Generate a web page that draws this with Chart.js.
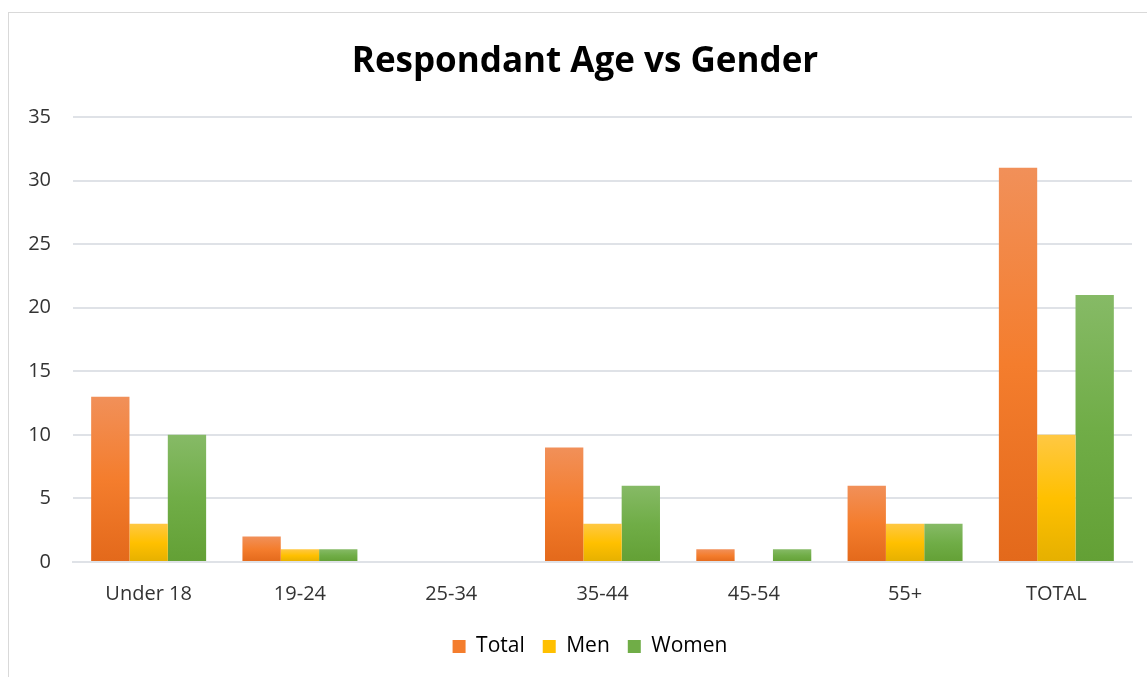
<!DOCTYPE html>
<html>
<head>
<meta charset="utf-8">
<script src="https://cdn.jsdelivr.net/npm/chart.js@4.4.1/dist/chart.umd.min.js"></script>
<style>
  html, body { margin: 0; padding: 0; background: #fff; overflow: hidden; }
  #frame { position: absolute; left: 8px; top: 12px; width: 1150px; height: 680px; border: 1px solid #d9d9d9; box-sizing: border-box; }
  #wrap { position: absolute; left: 0; top: 0; width: 1147px; height: 677px; }
</style>
</head>
<body>
<div id="frame"></div>
<div id="wrap"><canvas id="chart"></canvas></div>
<script>
const categories = ['Under 18', '19-24', '25-34', '35-44', '45-54', '55+', 'TOTAL']
const totalValues = [13, 2, 0, 9, 1, 6, 31]
const menValues = [3, 1, 0, 3, 0, 3, 10]
const womenValues = [10, 1, 0, 6, 1, 3, 21]
const yTicks = [0, 5, 10, 15, 20, 25, 30, 35]

// top, middle, bottom colour of each bar's gradient
const palette = {
  total: ['#f19059', '#f47d2d', '#e3691b'],
  men: ['#ffc843', '#ffc000', '#e5b000'],
  women: ['#86ba66', '#70ad47', '#63a035'],
}

function barGradient(stops) {
  return (ctx) => {
    const chart = ctx.chart
    const y = chart.scales && chart.scales.y
    if (!chart.chartArea || !y || ctx.raw === undefined) return stops[1]
    const top = y.getPixelForValue(ctx.raw)
    const base = y.getPixelForValue(0)
    if (base - top < 1) return stops[1]
    const g = chart.ctx.createLinearGradient(0, top, 0, base)
    g.addColorStop(0, stops[0])
    g.addColorStop(0.5, stops[1])
    g.addColorStop(1, stops[2])
    return g
  }
}

// title and legend are centred on the whole frame, not on the plot
const centreShift = {
  id: 'centreShift',
  afterLayout(chart) {
    if (chart.titleBlock) { chart.titleBlock.left += 19; chart.titleBlock.right += 19 }
    if (chart.legend) { chart.legend.left += 24; chart.legend.right += 24 }
  },
}

const font = "'Open Sans', 'Liberation Sans', sans-serif"
const textColor = '#333'
const gridColor = '#dfe2e7'

new Chart(document.getElementById('chart'), {
  type: 'bar',
  data: {
    labels: categories,
    datasets: [
      { label: 'Total', data: totalValues, backgroundColor: barGradient(palette.total) },
      { label: 'Men', data: menValues, backgroundColor: barGradient(palette.men) },
      { label: 'Women', data: womenValues, backgroundColor: barGradient(palette.women) },
    ],
  },
  plugins: [centreShift],
  options: {
    responsive: true,
    maintainAspectRatio: false,
    animation: false,
    datasets: {
      bar: { barPercentage: 1, categoryPercentage: 0.76 },
    },
    layout: { padding: { left: 0, right: 15, top: 25, bottom: 10 } },
    plugins: {
      title: {
        display: true,
        text: 'Respondant Age vs Gender',
        color: '#000',
        font: { family: font, size: 35, weight: 'bold' },
        padding: { top: 16, bottom: 34 },
      },
      legend: {
        position: 'bottom',
        labels: {
          color: textColor,
          boxWidth: 13,
          boxHeight: 13,
          padding: 18,
          font: { family: font, size: 21 },
          generateLabels: (chart) =>
            chart.data.datasets.map((ds, i) => ({
              text: ds.label,
              fillStyle: Object.values(palette)[i][1],
              strokeStyle: 'transparent',
              lineWidth: 0,
              datasetIndex: i,
            })),
        },
      },
      tooltip: { enabled: false },
    },
    scales: {
      x: {
        grid: { display: false },
        border: { color: gridColor, width: 2 },
        ticks: { color: textColor, padding: 12, font: { family: font, size: 20 } },
      },
      y: {
        min: 0,
        max: 35,
        afterBuildTicks: (axis) => { axis.ticks = yTicks.map((v) => ({ value: v })) },
        afterFit: (axis) => { axis.width = 73 },
        border: { display: false },
        grid: { color: gridColor, lineWidth: 2, drawTicks: false },
        ticks: { color: textColor, padding: 22, font: { family: font, size: 20 } },
      },
    },
  },
})
</script>
</body>
</html>
